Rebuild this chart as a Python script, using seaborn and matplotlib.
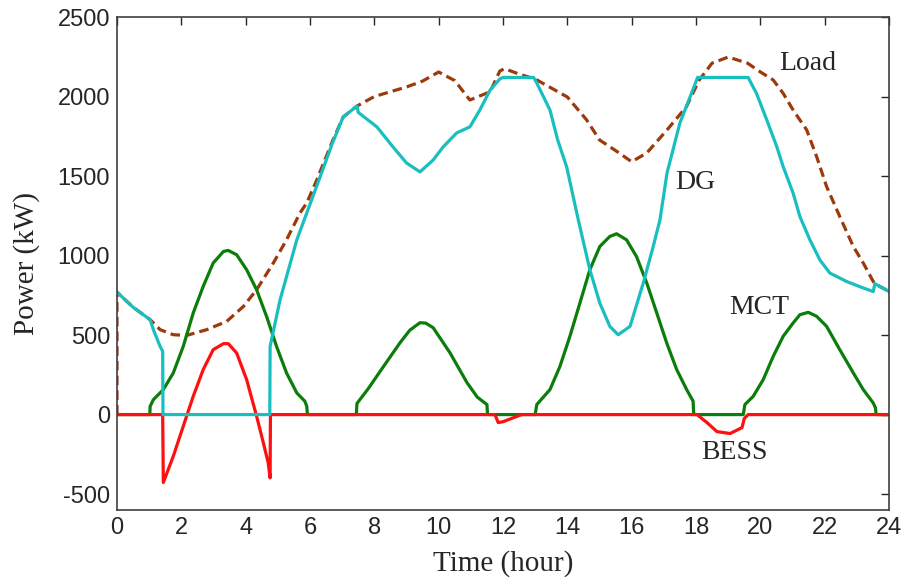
import matplotlib
matplotlib.use('Agg')
import matplotlib.pyplot as plt
import seaborn as sns
import pandas as pd

# Load demand (kW)
load_t = [0, 0, 0.5, 1.03, 1.34, 1.75, 2.17, 2.79, 3.41, 3.93, 4.34, 4.86, 5.27, 5.69, 5.9, 6.2,
          6.7, 7.03, 7.46, 8.0, 9.0, 9.5, 10.0, 10.5, 10.97, 11.6, 11.9, 12.05, 12.5, 13.0, 14.0,
          14.6, 15.0, 15.5, 16.0, 16.47, 17.1, 17.7, 18.1, 18.5, 19.0, 19.6, 19.99, 20.4, 20.71,
          21.02, 21.44, 21.75, 22.06, 22.47, 22.89, 23.2, 23.51, 23.56, 24.0]
load_p = [0, 770, 675, 597, 534, 502, 498, 534, 586, 680, 785, 953, 1099, 1268, 1331, 1470,
          1720, 1871, 1940, 2000, 2060, 2097, 2154, 2100, 1978, 2030, 2160, 2175, 2141, 2110, 1997,
          1853, 1727, 1660, 1590, 1645, 1790, 1935, 2104, 2210, 2248, 2210, 2156, 2104, 2020,
          1915, 1790, 1622, 1434, 1245, 1057, 953, 837, 823, 774]

# Diesel generator (kW)
dg_t = [0, 0.5, 1.03, 1.13, 1.34, 1.42, 1.43, 4.75, 4.76, 5.07, 5.59, 5.9, 6.2, 6.7, 7.03, 7.46,
        7.5, 8.08, 8.58, 9.0, 9.42, 9.83, 10.14, 10.56, 10.97, 11.28, 11.6, 11.9, 12.0, 12.95,
        13.05, 13.46, 13.7, 13.98, 14.34, 14.7, 15.01, 15.32, 15.58, 15.95, 16.36, 16.67, 16.88,
        17.1, 17.5, 17.9, 18.05, 19.62, 19.88, 20.2, 20.51, 20.71, 21.02, 21.23, 21.54, 21.85,
        22.16, 22.68, 23.2, 23.51, 23.56, 24.0]
dg_p = [770, 675, 597, 534, 429, 398, 0, 0, 429, 722, 1099, 1268, 1432, 1708, 1871, 1940,
        1900, 1809, 1683, 1582, 1526, 1601, 1683, 1771, 1809, 1915, 2041, 2110, 2120, 2120,
        2085, 1915, 1727, 1557, 1225, 911, 701, 555, 502, 555, 827, 1057, 1225,
        1520, 1834, 2041, 2120, 2120, 2020, 1853, 1685, 1559, 1392, 1245, 1099, 973,
        890, 837, 796, 774, 823, 774]

# Micro gas turbine (kW)
mct_t = [0, 1.02, 1.03, 1.13, 1.44, 1.75, 2.06, 2.37, 2.68, 2.99, 3.31, 3.46, 3.72, 4.03, 4.34,
         4.65, 4.96, 5.27, 5.59, 5.84, 5.9, 5.92, 7.44, 7.46, 7.8, 8.28, 8.8, 9.1, 9.42, 9.6,
         9.83, 10.35, 10.88, 11.2, 11.5, 11.52, 13.0, 13.05, 13.46, 13.77, 14.08, 14.39, 14.7,
         15.01, 15.32, 15.53, 15.84, 16.15, 16.47, 16.78, 17.09, 17.4, 17.71, 17.91, 17.93, 19.47,
         19.52, 19.78, 20.09, 20.4, 20.71, 21.02, 21.23, 21.49, 21.75, 22.06, 22.47, 22.89, 23.2,
         23.51, 23.58, 23.6, 24.0]
mct_p = [0, 0, 52, 94, 157, 262, 429, 639, 806, 953, 1026, 1032, 1005, 911, 785,
         617, 429, 262, 136, 84, 52, 0, 0, 70, 160, 301, 452, 530, 578, 575,
         546, 389, 201, 110, 63, 0, 0, 63, 157, 303, 492, 701, 911,
         1057, 1120, 1137, 1099, 994, 827, 639, 450, 283, 157, 84, 0, 0,
         63, 115, 220, 366, 492, 576, 628, 643, 618, 555, 408, 262, 157,
         73, 42, 0, 0]

# Battery storage (kW)
bess_t = [0, 1.42, 1.44, 1.75, 2.06, 2.37, 2.68, 2.99, 3.31, 3.46, 3.72, 4.03, 4.34, 4.55, 4.70,
          4.76, 4.77, 11.75, 11.85, 12.0, 12.58, 18.03, 18.34, 18.65, 19.06, 19.43, 19.5, 19.62,
          24.0]
bess_p = [0, 0, -427, -262, -73, 115, 283, 408, 446, 446, 387, 220, -10, -178, -303,
          -398, 0, 0, -50, -45, 0, 0, -50, -107, -119, -82, -25, 0,
          0]

series = [
    ('Load', load_t, load_p, '#9c3a0c', (0, (3, 1.6))),
    ('MCT', mct_t, mct_p, '#0a7d0a', '-'),
    ('BESS', bess_t, bess_p, '#ff1010', '-'),
    ('DG', dg_t, dg_p, '#19bfbf', '-'),
]

sns.set_style('white')
plt.rcParams['font.family'] = ['Liberation Sans', 'DejaVu Sans']
plt.rcParams['axes.unicode_minus'] = False

fig = plt.figure(figsize=(9.06, 5.82), dpi=100)
ax = fig.add_axes([117 / 906, 72 / 582, 772 / 906, 493 / 582])

for name, t, p, col, ls in series:
    df = pd.DataFrame({'t': t, 'p': p})
    sns.lineplot(data=df, x='t', y='p', ax=ax, color=col, linestyle=ls, linewidth=2.3,
                 estimator=None, sort=False)

ax.set_xlim(0, 24)
ax.set_ylim(-600, 2500)
ax.set_xticks(range(0, 25, 2))
ax.set_yticks(range(-500, 2501, 500))
ax.tick_params(direction='in', length=6, width=1, top=True, right=True,
               labelsize=17, colors='#262626', pad=5)
for s in ax.spines.values():
    s.set_color('#404040')
    s.set_linewidth(1.2)

serif = ['Liberation Serif', 'DejaVu Serif']
ax.set_xlabel('Time (hour)', fontsize=21, family=serif, labelpad=8)
ax.set_ylabel('Power (kW)', fontsize=21, family=serif, labelpad=13)

ax.text(21.48, 2210, 'Load', fontsize=20, family=serif, ha='center', va='center')
ax.text(17.97, 1457, 'DG', fontsize=20, family=serif, ha='center', va='center')
ax.text(19.96, 672, 'MCT', fontsize=20, family=serif, ha='center', va='center')
ax.text(19.18, -239, 'BESS', fontsize=20, family=serif, ha='center', va='center')

fig.savefig('out.png', dpi=100)
